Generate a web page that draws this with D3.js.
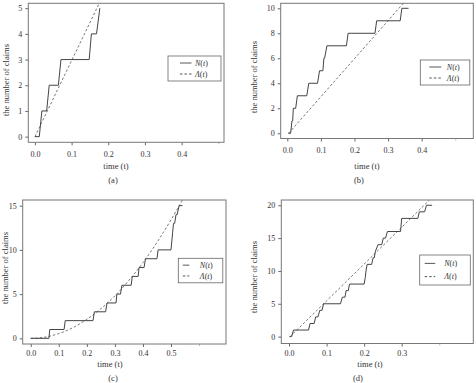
<!DOCTYPE html>
<html>
<head>
<meta charset="utf-8">
<script src="https://cdn.jsdelivr.net/npm/d3@7/dist/d3.min.js"></script>
<style>
  body { margin: 0; background: #fff; }
  svg text { font-family: "Liberation Serif", "DejaVu Serif", serif; fill: #333; }
</style>
</head>
<body>
<svg id="chart" width="476" height="383"></svg>
<script>
// observed counting process N(t) : [time, claims]
var nA = [[0,0],[0.012,0],[0.019,1],[0.032,1],[0.039,2],[0.064,2],[0.071,3],[0.148,3],[0.154,4],[0.168,4],[0.177,5]];
var nB = [[0.003,0],[0.010,0],[0.014,1],[0.016,1],[0.018,2],[0.025,2],[0.030,3],[0.058,3],[0.064,4],[0.090,4],[0.096,5],
          [0.106,5],[0.109,6],[0.111,6],[0.118,7],[0.176,7],[0.181,8],[0.261,8],[0.266,9],[0.336,9],[0.341,10],[0.361,10]];
var nC = [[0,0],[0.065,0],[0.068,1],[0.119,1],[0.123,2],[0.222,2],[0.227,3],[0.267,3],[0.272,4],[0.304,4],[0.307,5],
          [0.320,5],[0.325,6],[0.358,6],[0.362,7],[0.383,7],[0.386,8],[0.404,8],[0.409,9],[0.450,9],[0.454,10],
          [0.500,10],[0.503,11],[0.506,12],[0.509,13],[0.513,13],[0.518,14],[0.522,14],[0.529,15],[0.541,15]];
var nD = [[0.001,0],[0.007,0],[0.012,1],[0.052,1],[0.056,2],[0.067,2],[0.071,3],[0.077,3],[0.082,4],[0.088,4],[0.092,5],
          [0.137,5],[0.142,6],[0.149,6],[0.152,7],[0.158,7],[0.161,8],[0.200,8],[0.203,9],[0.205,10],[0.208,11],
          [0.220,11],[0.224,12],[0.227,12],[0.230,13],[0.237,14],[0.247,14],[0.251,15],[0.257,15],[0.262,16],
          [0.297,16],[0.300,18],[0.343,18],[0.347,19],[0.361,19],[0.366,20],[0.381,20]];

// expected cumulative intensity Lambda(t)
var lamA = [[0,0],[0.175,5.18]];
var lamB = [[0.004,0],[0.352,10.6]];
var lamC = [[0,0],[0.05,0.13],[0.1,0.54],[0.15,1.2],[0.2,2.15],[0.25,3.35],[0.3,4.8],[0.35,6.55],[0.4,8.55],
            [0.45,10.85],[0.5,13.4],[0.541,15.64]];
var lamD = [[0.003,0],[0.374,20.8]];

// tick labels (plus the one unlabelled tick at the end of each x axis)
var xTicksA = [0, 0.1, 0.2, 0.3, 0.4], xExtraA = [0.5], yTicksA = [0, 1, 2, 3, 4, 5];
var xTicksB = [0, 0.1, 0.2, 0.3, 0.4], xExtraB = [0.5], yTicksB = [0, 2, 4, 6, 8, 10];
var xTicksC = [0, 0.1, 0.2, 0.3, 0.4, 0.5], xExtraC = [0.6], yTicksC = [0, 5, 10, 15];
var xTicksD = [0, 0.1, 0.2, 0.3], xExtraD = [0.4], yTicksD = [0, 5, 10, 15, 20];
var tags = ["(a)", "(b)", "(c)", "(d)"];

var panels = [
  { n: nA, lam: lamA, xt: xTicksA, xe: xExtraA, yt: yTicksA, tag: tags[0], curve: d3.curveLinear,
    box: [28.3, 224, 3.3, 142.3], xd: [-0.018, 0.5155], yd: [-0.22, 5.19], tickDy: 8.3,
    ylab: [6, 80], xlab: [116, 168.5], tagPos: [113, 183],
    leg: [168, 56, 53, 25], legX: [12, 23.5, 27] },
  { n: nB, lam: lamB, xt: xTicksB, xe: xExtraB, yt: yTicksB, tag: tags[1], curve: d3.curveLinear,
    box: [280.7, 473.3, 3.3, 138.5], xd: [-0.0196, 0.5536], yd: [-0.42, 10.4], tickDy: 8.3,
    ylab: [254, 77], xlab: [367, 168.5], tagPos: [359, 183],
    leg: [420.3, 60, 49.5, 25], legX: [9, 21, 26.5] },
  { n: nC, lam: lamC, xt: xTicksC, xe: xExtraC, yt: yTicksC, tag: tags[2], curve: d3.curveMonotoneX,
    box: [22.7, 226, 200, 344], xd: [-0.0285, 0.696], yd: [-0.64, 15.64], tickDy: 6.3,
    ylab: [5, 268], xlab: [110, 366.5], tagPos: [113, 380.5],
    leg: [178.3, 258.3, 44.5, 24.5], legX: [4.5, 11, 21.5] },
  { n: nD, lam: lamD, xt: xTicksD, xe: xExtraD, yt: yTicksD, tag: tags[3], curve: d3.curveLinear,
    box: [281.3, 473.3, 200, 343.5], xd: [-0.0205, 0.4906], yd: [-1.05, 20.8], tickDy: 6.3,
    ylab: [254, 277], xlab: [370, 366.5], tagPos: [358, 380.5],
    leg: [419.7, 255, 50.6, 30], legX: [5, 15.5, 24.5] }
];

var svg = d3.select("#chart");

panels.forEach(function (p, i) {
  var x = d3.scaleLinear().domain(p.xd).range([p.box[0], p.box[1]]);
  var y = d3.scaleLinear().domain(p.yd).range([p.box[3], p.box[2]]);
  var g = svg.append("g").attr("class", "panel");

  g.append("clipPath").attr("id", "clip" + i).append("rect")
    .attr("x", p.box[0]).attr("y", p.box[2])
    .attr("width", p.box[1] - p.box[0]).attr("height", p.box[3] - p.box[2]);

  var xAxis = g.append("g").attr("transform", "translate(0," + p.box[3] + ")")
    .call(d3.axisBottom(x).tickValues(p.xt).tickFormat(d3.format(".1f")).tickSize(3).tickSizeOuter(0));
  var yAxis = g.append("g").attr("transform", "translate(" + p.box[0] + ",0)")
    .call(d3.axisLeft(y).tickValues(p.yt).tickFormat(d3.format("d")).tickSize(3).tickSizeOuter(0));
  // faint unlabelled closing tick
  g.append("g").attr("transform", "translate(0," + p.box[3] + ")")
    .call(d3.axisBottom(x).tickValues(p.xe).tickFormat("").tickSize(2).tickSizeOuter(0))
    .call(function (a) { a.select(".domain").remove(); a.selectAll("line").attr("stroke", "#bbb"); });
  [xAxis, yAxis].forEach(function (a) {
    a.select(".domain").remove();
    a.selectAll("line").attr("stroke", "#666");
    a.selectAll("text").attr("font-size", 8).attr("fill", "#333")
      .style("font-family", "'Liberation Serif', serif");
  });
  xAxis.selectAll("text").attr("dy", p.tickDy + "px");
  yAxis.selectAll("text").attr("x", -6);

  g.append("rect").attr("x", p.box[0]).attr("y", p.box[2])
    .attr("width", p.box[1] - p.box[0]).attr("height", p.box[3] - p.box[2])
    .attr("fill", "none").attr("stroke", "#777").attr("stroke-width", 1);

  var line = d3.line().x(function (d) { return x(d[0]); }).y(function (d) { return y(d[1]); });

  g.append("path").datum(p.lam).attr("clip-path", "url(#clip" + i + ")")
    .attr("d", line.curve(p.curve)).attr("fill", "none")
    .attr("stroke", "#555").attr("stroke-width", 0.8).attr("stroke-dasharray", "2.5,2");
  g.append("path").datum(p.n).attr("clip-path", "url(#clip" + i + ")")
    .attr("d", line.curve(d3.curveLinear)).attr("fill", "none")
    .attr("stroke", "#444").attr("stroke-width", 1);

  g.append("text").attr("transform", "translate(" + p.ylab[0] + "," + p.ylab[1] + ") rotate(-90)")
    .attr("text-anchor", "middle").attr("dy", "0.35em").attr("font-size", 8.5)
    .text("the number of claims");
  g.append("text").attr("x", p.xlab[0]).attr("y", p.xlab[1])
    .attr("text-anchor", "middle").attr("font-size", 8.5).text("time (t)");
  g.append("text").attr("x", p.tagPos[0]).attr("y", p.tagPos[1])
    .attr("text-anchor", "middle").attr("font-size", 8.5).text(p.tag);

  // legend
  var L = p.leg, lx = p.legX;
  var lg = g.append("g").attr("transform", "translate(" + L[0] + "," + L[1] + ")");
  lg.append("rect").attr("width", L[2]).attr("height", L[3])
    .attr("fill", "#fff").attr("stroke", "#666").attr("stroke-width", 0.8);
  var rows = [{ lab: "N", dash: null }, { lab: "\u039B", dash: "2.5,2" }];
  rows.forEach(function (r, k) {
    var yy = L[3] * (k === 0 ? 0.28 : 0.72);
    lg.append("line").attr("x1", lx[0]).attr("x2", lx[1]).attr("y1", yy).attr("y2", yy)
      .attr("stroke", "#444").attr("stroke-width", 0.9)
      .attr("stroke-dasharray", r.dash);
    var t = lg.append("text").attr("x", lx[2]).attr("y", yy).attr("dy", "0.35em")
      .attr("font-size", 8);
    t.append("tspan").attr("font-style", "italic").text(r.lab);
    t.append("tspan").text("(");
    t.append("tspan").attr("font-style", "italic").text("t");
    t.append("tspan").text(")");
  });
});
</script>
</body>
</html>
